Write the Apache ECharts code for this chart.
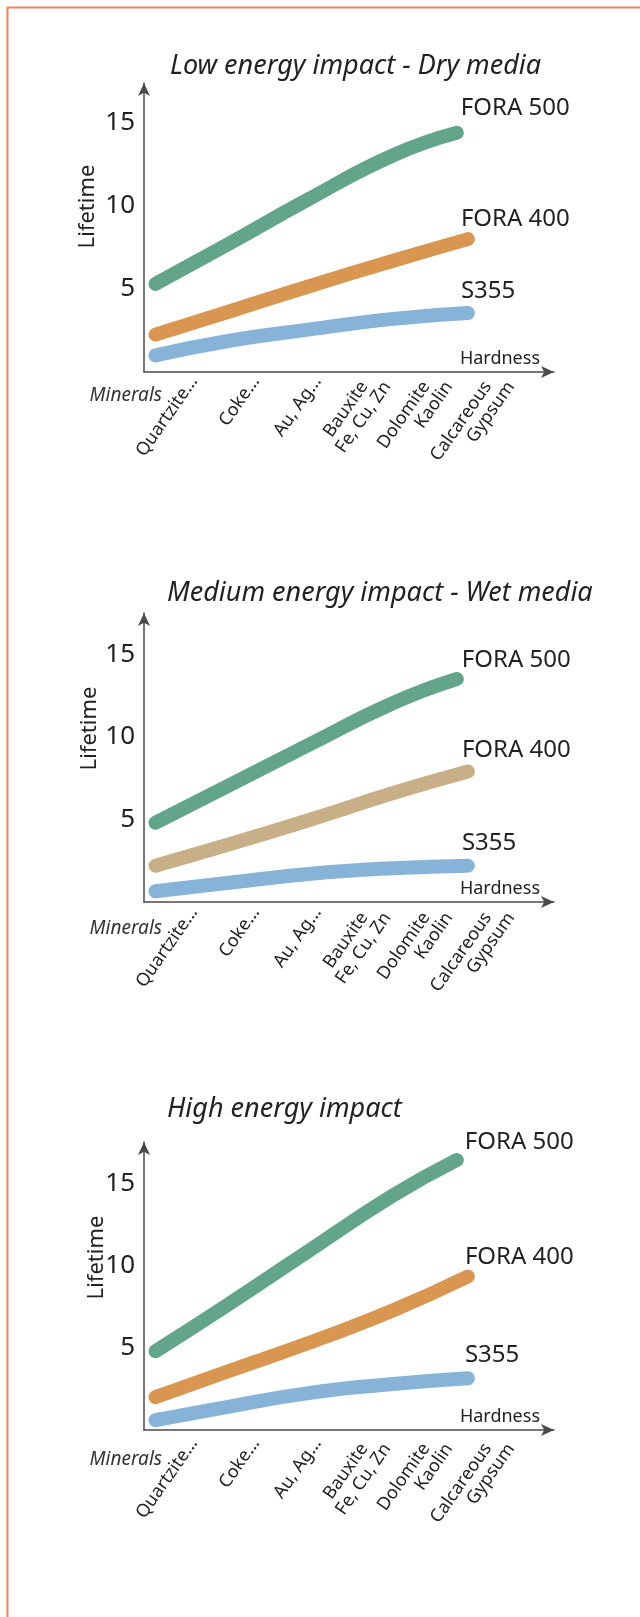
<!DOCTYPE html>
<html>
<head>
<meta charset="utf-8">
<script src="https://cdn.jsdelivr.net/npm/echarts@6/dist/echarts.min.js"></script>
<style>
html,body{margin:0;padding:0;background:#fff;}
#main{width:640px;height:1617px;}
</style>
</head>
<body>
<div id="main"></div>
<script>
// ---- data ----
const titles = ['Low energy impact - Dry media', 'Medium energy impact - Wet media', 'High energy impact'];
const categories = ['Quartzite...', 'Coke...', 'Au, Ag...', 'Bauxite\nFe, Cu, Zn', 'Dolomite\nKaolin', 'Calcareous\nGypsum'];
const categoryAxisName = 'Minerals';
const seriesNames = ['FORA 500', 'FORA 400', 'S355'];
const yTicks = [5, 10, 15];
const xGreen = [2.8, 20.2, 40.1, 60.8, 76.3];
const xOthers = [2.8, 20.2, 40.1, 60.8, 79.0];

const lowFora500 = [5.3, 7.65, 10.4, 13.05, 14.4];
const lowFora400 = [2.25, 3.6, 5.15, 6.7, 8.0];
const lowS355 = [1.0, 1.85, 2.55, 3.2, 3.55];

const medFora500 = [4.8, 7.0, 9.5, 12.05, 13.5];
const medFora400 = [2.2, 3.45, 4.95, 6.6, 7.9];
const medS355 = [0.65, 1.15, 1.7, 2.05, 2.2];

const highFora500 = [4.8, 7.6, 10.9, 14.3, 16.45];
const highFora400 = [2.0, 3.55, 5.3, 7.3, 9.35];
const highS355 = [0.6, 1.4, 2.25, 2.8, 3.15];

// ---- layout / style ----
const FONT = '"Noto Sans", "Open Sans", sans-serif';
const TXT = '#222';
const AXIS = '#4a4a4a';
const panels = [
  { top: 83, axisY: 372, yMax: 17.4, titleTop: 53, titleLeft: 170, lifeGap: 45, lifePad: 42, minOff: 25, labMargin: 6,
    values: [lowFora500, lowFora400, lowS355], colors: ['#62a58b', '#d99651', '#88b3d9'],
    offsets: [[-4, -25], [-15, -20], [-15, -22]] },
  { top: 613, axisY: 902, yMax: 17.5, titleTop: 580, titleLeft: 167, lifeGap: 43, lifePad: 58, minOff: 28, labMargin: 7,
    values: [medFora500, medFora400, medS355], colors: ['#62a58b', '#c8af87', '#88b3d9'],
    offsets: [[-3, -19], [-14, -21], [-14, -23]] },
  { top: 1142, axisY: 1430, yMax: 17.55, titleTop: 1096, titleLeft: 167, lifeGap: 36, lifePad: 57, minOff: 31, labMargin: 10,
    values: [highFora500, highFora400, highS355], colors: ['#62a58b', '#d99651', '#88b3d9'],
    offsets: [[0, -18], [-11, -19], [-11, -23]] }
];

const grid = [], xAxis = [], yAxis = [], series = [], title = [];
panels.forEach((p, k) => {
  title.push({
    text: titles[k], left: p.titleLeft, top: p.titleTop, padding: 0,
    textStyle: { fontFamily: FONT, fontSize: 27, fontStyle: 'italic', fontWeight: 'normal', color: TXT }
  });
  title.push({
    text: categoryAxisName, right: 640 - 162, top: p.axisY + p.minOff - 11, padding: 0,
    textStyle: { fontFamily: FONT, fontSize: 19, fontStyle: 'italic', fontWeight: 'normal', color: '#333' }
  });
  // plot grid
  grid.push({ left: 144, right: 86, top: p.top, height: p.axisY - p.top });
  xAxis.push({
    type: 'value', gridIndex: 2 * k, min: 0, max: 100,
    axisLine: { show: true, symbol: ['none', 'arrow'], symbolSize: [9, 13], lineStyle: { color: AXIS, width: 1.5 } },
    axisTick: { show: false }, axisLabel: { show: false }, splitLine: { show: false },
    name: 'Hardness', nameLocation: 'end', nameGap: -14, nameMoveOverlap: false,
    nameTextStyle: { fontFamily: FONT, fontSize: 18, color: TXT, align: 'right', verticalAlign: 'bottom', padding: [0, 0, 4, 0] }
  });
  yAxis.push({
    type: 'value', gridIndex: 2 * k, min: 0, max: p.yMax, interval: 5,
    axisLine: { show: true, symbol: ['none', 'arrow'], symbolSize: [9, 13], lineStyle: { color: AXIS, width: 1.5 } },
    axisTick: { show: false }, splitLine: { show: false },
    axisLabel: { fontFamily: FONT, fontSize: 26, color: TXT, margin: 9,
      formatter: v => (yTicks.indexOf(v) >= 0 ? String(v) : '') },
    name: 'Lifetime', nameLocation: 'middle', nameRotate: 90, nameGap: p.lifeGap, nameMoveOverlap: false,
    nameTextStyle: { fontFamily: FONT, fontSize: 22, color: TXT, padding: [0, 0, 0, p.lifePad] }
  });
  // category label grid
  grid.push({ left: 163, width: 371, top: p.axisY - 1, height: 1 });
  xAxis.push({
    type: 'category', gridIndex: 2 * k + 1, data: categories, boundaryGap: true,
    axisLine: { show: false }, axisTick: { show: false },
    axisLabel: {
      interval: 0, rotate: 55, margin: p.labMargin,
      formatter: v => {
        const parts = v.split('\n');
        if (parts.length === 1) return '{a|' + v + '}';
        return '{p|' + parts[0] + '}\n{a|' + parts[1] + '}';
      },
      rich: {
        a: { fontFamily: FONT, fontSize: 18, color: TXT, lineHeight: 19 },
        p: { fontFamily: FONT, fontSize: 18, color: TXT, lineHeight: 19, padding: [0, 13, 0, 0] }
      }
    }
  });
  yAxis.push({ type: 'value', gridIndex: 2 * k + 1, show: false });

  p.values.forEach((vals, s) => {
    const xs = s === 0 ? xGreen : xOthers;
    series.push({
      type: 'line', name: seriesNames[s], xAxisIndex: 2 * k, yAxisIndex: 2 * k,
      data: vals.map((v, i) => [xs[i], v]),
      smooth: true, showSymbol: false, symbol: 'none',
      lineStyle: { width: 14, color: p.colors[s], cap: 'round', join: 'round' },
      endLabel: { show: true, formatter: seriesNames[s], fontFamily: FONT, fontSize: 24, color: TXT, offset: p.offsets[s] },
      z: 3 - s
    });
  });
});

const chart = echarts.init(document.getElementById('main'), null, { renderer: 'canvas' });
chart.setOption({
  animation: false,
  backgroundColor: '#fff',
  title, grid, xAxis, yAxis, series,
  graphic: [{
    type: 'rect', left: 5, top: 5, silent: true,
    shape: { x: 0, y: 0, width: 1000, height: 2000 },
    style: { fill: 'none', stroke: '#f0855d', lineWidth: 2 }
  }]
});
</script>
</body>
</html>
